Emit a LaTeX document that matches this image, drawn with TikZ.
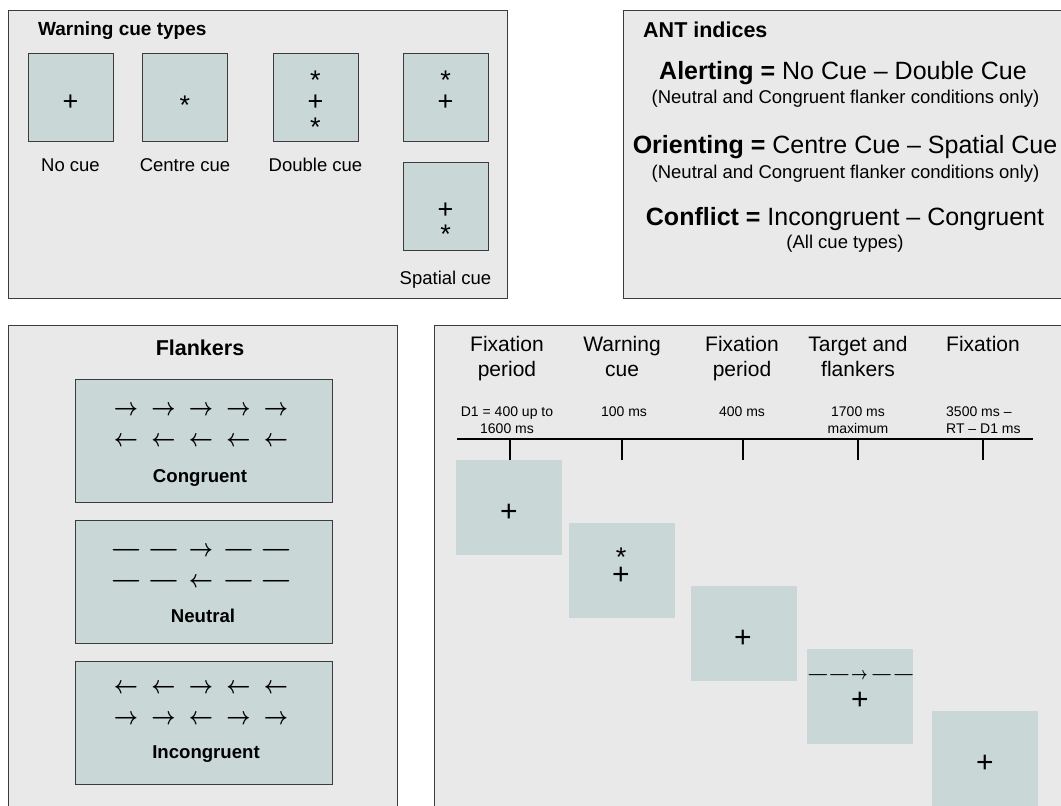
\documentclass[tikz,border=0pt]{standalone}
\usepackage{fontspec}
\setmainfont{Liberation Sans}
\definecolor{panelbg}{RGB}{233,233,233}
\definecolor{boxfill}{RGB}{201,215,215}
\definecolor{edge}{RGB}{60,60,60}
\newcommand\fsz[2]{\fontsize{#1}{#2}\selectfont}
\newcommand\rarr{\scalebox{2.1}[2.5]{\boldmath$\rightarrow$}}
\newcommand\larr{\scalebox{2.1}[2.5]{\boldmath$\leftarrow$}}
\newcommand\edash{\scalebox{3.8}[2.5]{\boldmath$-$}}
\newcommand\srarr{\scalebox{1.45}[1.75]{\boldmath$\rightarrow$}}
\newcommand\sdash{\scalebox{2.65}[1.75]{\boldmath$-$}}
\newcommand\flrow[3]{\foreach \g [count=\i] in {#3} {\node[glyph] (#1-\i) at ({88.5+37.5*\i},{#2+6.25}) {\g};}}
\begin{document}
\begin{tikzpicture}[x=1pt,y=-1pt,
  panel/.style={draw=edge, fill=panelbg, line width=1.2pt, rectangle, inner sep=0pt, anchor=north west},
  cuebox/.style={draw=edge, fill=boxfill, line width=1pt, inner sep=0pt, minimum width=85pt, minimum height=88pt},
  flbox/.style={draw=edge, fill=boxfill, line width=1pt, inner sep=0pt, minimum width=257pt, minimum height=123pt},
  tlbox/.style={fill=boxfill, inner sep=0pt, minimum width=106pt, minimum height=95pt},
  txt/.style={inner sep=0pt, anchor=base},
  glyph/.style={inner sep=0pt, anchor=base},
  plusg/.style={inner sep=0pt, anchor=base, font=\fsz{27}{30}},
  bigplus/.style={inner sep=0pt, anchor=base, font=\fsz{30}{34}},
  lbl/.style={txt, font=\fsz{18.5}{22}},
  hdr/.style={txt, font=\fsz{21}{25}},
  dur/.style={txt, font=\fsz{14}{17}},
  ttl/.style={txt, font=\bfseries\fsz{19}{23}},
  bigttl/.style={txt, font=\bfseries\fsz{21.5}{26}},
  idx/.style={txt, font=\fsz{25}{30}},
  sub/.style={txt, font=\fsz{18.5}{22}},
  flname/.style={txt, font=\bfseries\fsz{18.6}{22}},
  axis/.style={line width=2pt, draw=black}
]
\useasboundingbox (0,0) rectangle (1061,806);
\clip (0,0) rectangle (1061,806);

% ---------------- Warning cue types ----------------
\node[panel, minimum width=499pt, minimum height=288pt] (pcue) at (8,10) {};
\node[ttl, anchor=base west] (tcue) at (38,35) {Warning cue types};
\node[cuebox] (nc) at (70.5,97) {};
\node[cuebox] (cc) at (185,97) {};
\node[cuebox] (dc) at (315.5,97) {};
\node[cuebox] (sc1) at (445.5,97) {};
\node[cuebox] (sc2) at (445.5,206) {};
\node[plusg] (ncp) at (70.5,110.2) {+};
\node[plusg] (cca) at (185,114.4) {*};
\node[plusg] (dca1) at (315.5,89.4) {*};
\node[plusg] (dcp) at (315.5,110.2) {+};
\node[plusg] (dca2) at (315.5,136.4) {*};
\node[plusg] (sc1a) at (445.5,89.4) {*};
\node[plusg] (sc1p) at (445.5,110.2) {+};
\node[plusg] (sc2p) at (445.5,218.2) {+};
\node[plusg] (sc2a) at (445.5,243.4) {*};
\node[lbl] (lnc) at (70.5,171.7) {No cue};
\node[lbl] (lcc) at (185,171.7) {Centre cue};
\node[lbl] (ldc) at (315.5,171.7) {Double cue};
\node[lbl] (lsc) at (445.5,284.7) {Spatial cue};

% ---------------- ANT indices ----------------
\node[panel, minimum width=450pt, minimum height=288pt] (pant) at (623,10) {};
\node[bigttl, anchor=base west] (tant) at (643,37) {ANT indices};
\node[idx] (ialert) at (843,79) {\textbf{Alerting =} No Cue – Double Cue};
\node[sub] (salert) at (845.5,103) {(Neutral and Congruent flanker conditions only)};
\node[idx] (iorient) at (845,153) {\textbf{Orienting =} Centre Cue – Spatial Cue};
\node[sub] (sorient) at (845.5,178) {(Neutral and Congruent flanker conditions only)};
\node[idx] (iconf) at (845,225) {\textbf{Conflict =} Incongruent – Congruent};
\node[sub] (sconf) at (845,248) {(All cue types)};

% ---------------- Flankers ----------------
\node[panel, minimum width=389pt, minimum height=500pt] (pfl) at (8,325) {};
\node[bigttl] (tfl) at (200,355) {Flankers};
\node[flbox] (fcong) at (203.5,440.5) {};
\node[flbox] (fneut) at (203.5,581.5) {};
\node[flbox] (fincg) at (203.5,723) {};
\flrow{cr1}{409}{\rarr,\rarr,\rarr,\rarr,\rarr}
\flrow{cr2}{440}{\larr,\larr,\larr,\larr,\larr}
\flrow{nr1}{550}{\edash,\edash,\rarr,\edash,\edash}
\flrow{nr2}{581}{\edash,\edash,\larr,\edash,\edash}
\flrow{ir1}{687}{\larr,\larr,\rarr,\larr,\larr}
\flrow{ir2}{718}{\rarr,\rarr,\larr,\rarr,\rarr}
\node[flname] (lcong) at (200,482) {Congruent};
\node[flname] (lneut) at (203,622) {Neutral};
\node[flname] (lincg) at (206,758) {Incongruent};

% ---------------- Timeline ----------------
\node[panel, minimum width=640pt, minimum height=500pt] (ptl) at (434,325) {};
\node[hdr] (h1a) at (507,351) {Fixation};
\node[hdr] (h1b) at (507,376) {period};
\node[hdr] (h2a) at (622,351) {Warning};
\node[hdr] (h2b) at (622,376) {cue};
\node[hdr] (h3a) at (742,351) {Fixation};
\node[hdr] (h3b) at (742,376) {period};
\node[hdr] (h4a) at (858,351) {Target and};
\node[hdr] (h4b) at (858,376) {flankers};
\node[hdr] (h5a) at (983,351) {Fixation};
\node[dur] (d1a) at (507,416) {D1 = 400 up to};
\node[dur] (d1b) at (507,433) {1600 ms};
\node[dur] (d2a) at (624,416) {100 ms};
\node[dur] (d3a) at (742,416) {400 ms};
\node[dur] (d4a) at (858,416) {1700 ms};
\node[dur] (d4b) at (858,433) {maximum};
\node[dur, anchor=base west] (d5a) at (946,416) {3500 ms –};
\node[dur, anchor=base west] (d5b) at (946,433) {RT – D1 ms};

\coordinate (ta) at (457,439);
\coordinate (tb) at (1033,439);
\draw[axis] (ta) -- (tb);
\foreach \x [count=\k] in {510,622,743,858,983} {
  \coordinate (tk\k a) at (\x,439);
  \coordinate (tk\k b) at (\x,460);
  \draw[axis] (tk\k a) -- (tk\k b);
}

\node[tlbox] (b1) at (509,507.5) {};
\node[tlbox] (b2) at (622,570.5) {};
\node[tlbox] (b3) at (744,633.5) {};
\node[tlbox] (b4) at (860,696.5) {};
\node[tlbox] (b5) at (985,758.5) {};
\node[bigplus] (b1p) at (509,521.2) {+};
\node[plusg] (b2a) at (621,566.4) {*};
\node[bigplus] (b2p) at (621,584.2) {+};
\node[bigplus] (b3p) at (743,647.2) {+};
\foreach \g/\x [count=\i] in {\sdash/818,\sdash/839.5,\srarr/859.5,\sdash/881.7,\sdash/903.7} {
  \node[glyph] (b4f\i) at (\x,679.4) {\g};
}
\node[bigplus] (b4p) at (860,709.2) {+};
\node[bigplus] (b5p) at (985,772.2) {+};
\end{tikzpicture}
\end{document}
